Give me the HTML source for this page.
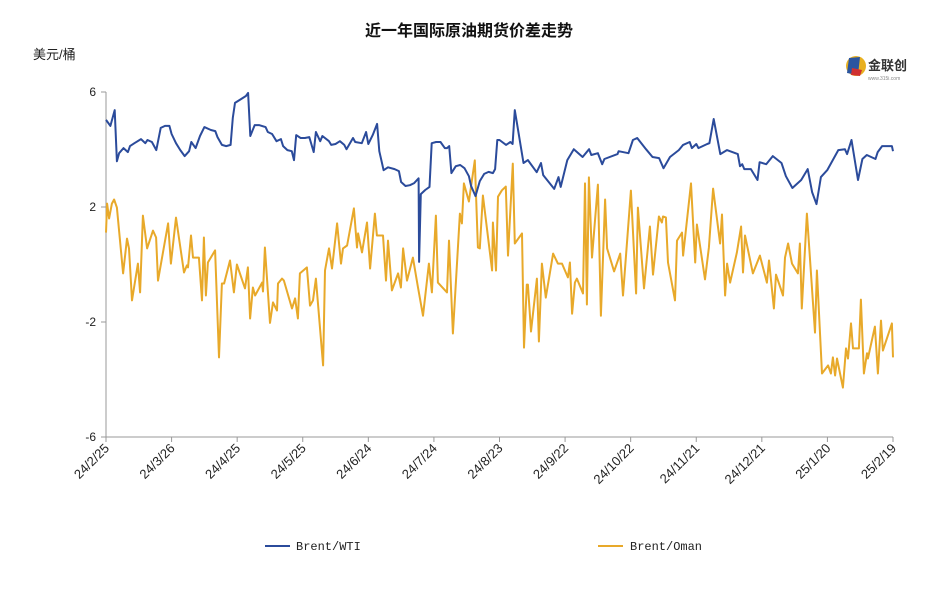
<!DOCTYPE html>
<html><head><meta charset="utf-8"><style>
body{margin:0;background:#fff;width:938px;height:602px;overflow:hidden;font-family:"Liberation Sans","Noto Sans CJK SC",sans-serif}
svg{display:block}
</style></head><body>
<svg id="chart" width="938" height="602">
<text x="469" y="36" text-anchor="middle" font-size="16" font-weight="bold" fill="#111" font-family="'Liberation Sans','Noto Sans CJK SC',sans-serif">近一年国际原油期货价差走势</text>
<text x="33" y="59" font-size="13" fill="#222" font-family="'Liberation Sans','Noto Sans CJK SC',sans-serif">美元/桶</text>
<g>
<circle cx="856" cy="66" r="10" fill="#e8b020"/><path d="M849 58 L860 57 L858 75 L847 73Z" fill="#2a55a0"/><path d="M852 68 L862 70 L860 76 L851 75Z" fill="#d03030"/>
<text x="868" y="70" font-size="13" font-weight="bold" fill="#333" font-family="'Liberation Sans','Noto Sans CJK SC',sans-serif">金联创</text>
<text x="868" y="80" font-size="5" fill="#888">www.315i.com</text>
</g>
<g id="axes"></g>
<g id="series"></g>
<g>
<line x1="265" y1="546" x2="290" y2="546" stroke="#2b4b9b" stroke-width="2"/>
<text x="296" y="550" font-size="12" fill="#222" font-family="'Liberation Mono',monospace">Brent/WTI</text>
<line x1="598" y1="546" x2="623" y2="546" stroke="#e8a92a" stroke-width="2"/>
<text x="630" y="550" font-size="12" fill="#222" font-family="'Liberation Mono',monospace">Brent/Oman</text>
</g>
</svg>
<script>
const xTickLabels=["24/2/25","24/3/26","24/4/25","24/5/25","24/6/24","24/7/24","24/8/23","24/9/22","24/10/22","24/11/21","24/12/21","25/1/20","25/2/19"];
const xTickDays=[0,30,60,90,120,150,180,210,240,270,300,330,360];
const yTicks=[6,2,-2,-6];
const wtiDays=[0,2,4,5,6,8,10,11,13,16,18,19,21,23,25,27,29,30,32,34,36,38,39,41,43,45,48,50,51,53,55,57,58,59,61,64,65,66,68,70,73,74,76,78,80,81,83,85,86,87,89,91,93,95,96,98,99,102,103,105,107,109,110,113,114,117,119,120,122,124,125,127,129,132,134,135,137,139,141,143,143.2,144,146,148,149,151,153,155,156,157,158,160,162,164,166,167,169,171,173,175,177,178,179,180,183,185,186,187,191,193,197,199,200,205,207,208,211,214,218,221,222,225,227,228,234,234.5,239,241,243,247,250,253,255,258,262,264,267,268,270,271,275,276,278,281,284,289,290,291,292,295,298,299,302,305,309,311,314,318,321,323,325,327,330,335,338,339,341,344,346,348,352,353,355,359.5,360];
const wtiValues=[5.03,4.82,5.37,3.59,3.87,4.05,3.91,4.12,4.22,4.36,4.22,4.33,4.26,3.98,4.75,4.82,4.82,4.54,4.22,3.98,3.77,3.94,4.26,4.05,4.47,4.78,4.68,4.64,4.43,4.16,4.12,4.16,5.1,5.62,5.72,5.86,5.97,4.47,4.85,4.85,4.78,4.61,4.54,4.29,4.36,4.12,3.98,3.94,3.63,4.5,4.4,4.4,4.43,3.91,4.61,4.29,4.47,4.29,4.16,4.19,4.29,4.16,4.01,4.4,4.26,4.22,4.61,4.19,4.5,4.89,3.94,3.28,3.38,3.32,3.25,2.87,2.73,2.76,2.83,3.0,0.09,2.45,2.59,2.7,4.22,4.26,4.26,4.05,4.05,4.12,3.18,3.42,3.46,3.35,3.07,2.73,2.38,2.9,3.15,3.22,3.18,3.32,4.33,4.33,4.16,4.26,4.19,5.37,3.53,3.63,3.21,3.53,3.11,2.63,3.04,2.7,3.63,4.01,3.74,4.01,3.81,3.87,3.49,3.67,3.84,3.94,3.87,4.33,4.4,4.01,3.74,3.7,3.35,3.74,3.98,4.16,4.26,4.05,4.19,4.05,4.19,4.22,5.06,3.84,3.98,3.84,3.42,3.49,3.32,3.32,2.94,3.56,3.49,3.77,3.53,3.07,2.66,2.94,3.32,2.52,2.1,3.04,3.29,3.98,4.01,3.84,4.33,2.94,3.67,3.81,3.67,3.91,4.12,4.12,3.94];
const omanDays=[0,0.5,1.4,2.7,3.7,5,7.8,9.6,10.5,11.9,14.6,15.6,16.9,18.8,21.5,22.9,23.8,28.4,29.7,32,35.7,37,37.5,38.9,39.8,42.5,43.9,44.8,45.7,46.6,49.9,51.7,53,54,56.7,58.5,59.9,63.6,64.9,65.9,67.2,68.2,71.4,71.8,72.7,75,76.4,78.2,78.7,80.5,81.4,85.1,86.5,87.8,88.7,91.9,93.3,94.7,96,99.3,100.2,102,103.4,105.7,107.5,108.4,110.3,113.4,114.8,115.3,117.1,119.4,120.8,123,123.9,126.7,128.1,129,130.8,133.6,134.9,135.9,137.7,140.4,142.7,145,147.7,149.1,150.9,151.8,156,156.9,158.7,161.9,162.8,163.7,166,168.7,170.1,171,172.4,176.6,177,178.4,179.3,181.1,182.9,183.9,186.1,187,190.3,191.2,192.5,193,194.4,197.1,198,199.4,201.2,204.5,206.7,208.6,211.3,212.2,213.2,214.5,215.4,218.2,219.1,220,220.9,222.3,225,226.4,228.3,229.2,232.4,235.2,236.5,240.1,242.5,243.3,246.1,248.8,250.2,252.9,254.3,254.8,256.1,257.1,260.3,261.2,263.5,264,267.6,269.5,270.3,274,275.8,277.7,280.9,281.8,283.2,284.1,285.5,288.6,290.5,291.4,292.3,295.9,299.1,302.3,303.3,305.5,306.5,309.7,310.6,312,313.8,316.5,317.4,318.3,320.6,324.3,325.2,327.5,330.3,331.6,332.5,333.5,334.4,337.1,338.5,339.4,340.8,341.7,344.4,345.3,346.7,348.1,348.5,351.7,353.1,354.5,355.4,359.5,360];
const omanValues=[1.11,2.12,1.6,2.12,2.26,1.98,-0.31,0.9,0.56,-1.25,0.03,-0.97,1.7,0.56,1.18,0.94,-0.56,1.43,0.03,1.63,-0.28,-0.03,-0.1,1.01,0.24,0.24,-1.25,0.94,-1.08,0.07,0.49,-3.23,-0.66,-0.66,0.14,-0.97,0,-0.83,-0.1,-1.88,-0.8,-1.08,-0.63,-0.94,0.59,-2.03,-1.32,-1.6,-0.66,-0.49,-0.56,-1.53,-1.18,-1.88,-0.31,-0.1,-1.43,-1.25,-0.49,-3.51,-0.21,0.56,-0.14,1.43,0.03,0.56,0.66,1.95,0.59,1.08,0.42,1.46,-0.14,1.77,1.01,1.01,-0.56,0.83,-0.9,-0.31,-0.8,0.56,-0.56,0.24,-0.8,-1.78,0.03,-0.97,1.7,-0.63,-0.97,0.83,-2.4,1.77,1.43,2.82,2.19,3.62,0.59,0.56,2.4,-0.21,1.46,-0.21,2.36,2.58,2.71,0.31,3.51,0.73,1.08,-2.89,-0.7,-0.7,-2.33,-0.49,-2.68,0.03,-1.15,0.38,0.03,0.03,-0.45,0.07,-1.71,-0.63,-0.49,-1.01,2.82,-1.39,3.03,0.24,2.78,-1.78,2.26,0.56,-0.24,0.38,-1.08,2.57,-1.01,1.98,-0.83,1.32,-0.35,1.67,1.46,1.67,1.64,0.07,-1.25,0.83,1.11,0.31,2.82,0.07,1.39,-0.52,0.59,2.64,0.73,1.74,-1.08,0.03,-0.63,0.42,1.32,-0.28,1.01,-0.31,0.31,-0.63,0.14,-1.53,-0.35,-1.08,0.24,0.73,0.03,-0.31,0.73,-1.53,1.77,-2.37,-0.21,-3.79,-3.51,-3.79,-3.23,-3.86,-3.27,-4.28,-2.92,-3.27,-2.05,-2.92,-2.92,-1.22,-3.79,-3.09,-3.27,-2.16,-3.79,-1.95,-2.99,-2.05,-3.23];

const NS="http://www.w3.org/2000/svg";
const L=106,R=893,T=92,B=437;
const xs=d=>L+(d/360)*(R-L);
const ys=v=>T+(6-v)/12*(B-T);
function mk(tag,attrs,parent){const e=document.createElementNS(NS,tag);for(const k in attrs)e.setAttribute(k,attrs[k]);parent.appendChild(e);return e;}
const ax=document.getElementById('axes');
let yl=mk('line',{x1:L,y1:T,x2:L,y2:B,stroke:'#999','stroke-width':1},ax);


let xl=mk('line',{x1:L,y1:B,x2:R,y2:B,stroke:'#999','stroke-width':1},ax);


yTicks.forEach(v=>{
  mk('line',{x1:L-5,y1:ys(v),x2:L,y2:ys(v),stroke:'#999'},ax);
  const t=mk('text',{x:L-10,y:ys(v)+4,'text-anchor':'end','font-size':12,fill:'#222'},ax);
  t.textContent=v;
  
  
});
xTickDays.forEach((d,i)=>{
  const x=xs(d);
  mk('line',{x1:x,y1:B,x2:x,y2:B+5,stroke:'#999'},ax);
  const t=mk('text',{x:x+4,y:B+12,'text-anchor':'end','font-size':13,fill:'#222',transform:`rotate(-45 ${x+4} ${B+12})`},ax);
  t.textContent=xTickLabels[i];
  
  
});
const sg=document.getElementById('series');
function line(days,vals,color,name){
  const d=days.map((dd,i)=>(i?'L':'M')+xs(dd).toFixed(1)+' '+ys(vals[i]).toFixed(1)).join(' ');
  const p=mk('path',{d:d,fill:'none',stroke:color,'stroke-width':2,'stroke-linejoin':'round'},sg);
  
  
}
line(omanDays,omanValues,'#e8a92a','brent-oman-line');
line(wtiDays,wtiValues,'#2b4b9b','brent-wti-line');
</script>
</body></html>
